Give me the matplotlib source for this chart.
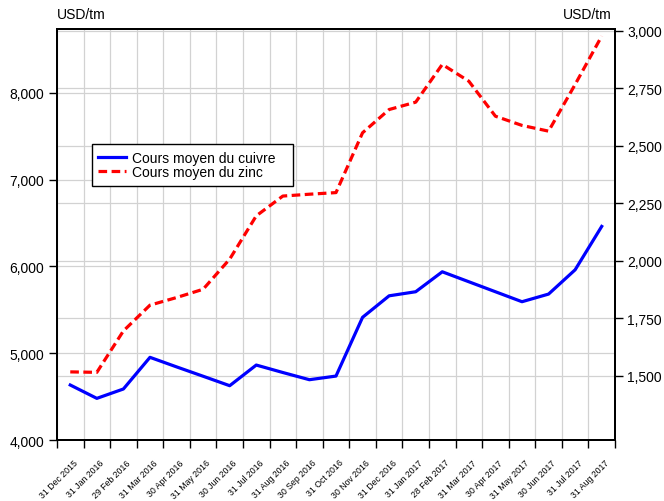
import matplotlib
matplotlib.use("Agg")
import matplotlib.pyplot as plt
import matplotlib.transforms as mtransforms
from matplotlib.ticker import FuncFormatter, FixedLocator
import numpy as np

plt.rcParams["font.family"] = ["Liberation Sans", "DejaVu Sans"]

# ---- data ----
months = ["31 Dec 2015", "31 Jan 2016", "29 Feb 2016", "31 Mar 2016", "30 Apr 2016",
          "31 May 2016", "30 Jun 2016", "31 Jul 2016", "31 Aug 2016", "30 Sep 2016",
          "31 Oct 2016", "30 Nov 2016", "31 Dec 2016", "31 Jan 2017", "28 Feb 2017",
          "31 Mar 2017", "30 Apr 2017", "31 May 2017", "30 Jun 2017", "31 Jul 2017",
          "31 Aug 2017"]
copper = [4634, 4480, 4588, 4953, 4843, 4735, 4626, 4864, 4778, 4695, 4737,
          5414, 5662, 5709, 5939, 5824, 5709, 5594, 5682, 5962, 6462]
zinc = [1517, 1515, 1695, 1807, 1840, 1876, 2007, 2195, 2281, 2289, 2296,
        2556, 2657, 2689, 2853, 2780, 2628, 2588, 2563, 2766, 2976]
label_copper = "Cours moyen du cuivre"
label_zinc = "Cours moyen du zinc"
unit = "USD/tm"
left_ticks = [4000, 5000, 6000, 7000, 8000]
right_ticks = [1500, 1750, 2000, 2250, 2500, 2750, 3000]

x = np.arange(len(months))

fig = plt.figure(figsize=(6.64, 5.02), dpi=100)
ax1 = fig.add_axes([0.0858, 0.1215, 0.8404, 0.8197])
ax2 = ax1.twinx()
ax3 = ax1.twinx()

grid_kw = dict(color="#d2d2d2", linewidth=0.9)
fmt = FuncFormatter(lambda v, p: f"{v:,.0f}")

# base axes: left scale, grids
ax1.set_xlim(-0.5, len(months) - 0.5)
ax1.set_ylim(4000, 8743)
ax1.yaxis.set_major_locator(FixedLocator(left_ticks))
ax1.yaxis.set_major_formatter(fmt)
ax1.set_xticks(x)
ax1.set_xticklabels(months, rotation=45, ha="right", va="center",
                    rotation_mode="anchor", fontsize=6.3)
ax1.xaxis.set_minor_locator(FixedLocator(np.arange(-0.5, len(months), 1.0)))
ax1.tick_params(axis="x", which="major", length=0, pad=15)
ax1.tick_params(axis="x", which="minor", length=6, width=1.0, direction="out", color="black")
ax1.tick_params(axis="y", which="major", length=6, width=1.0, direction="out",
                labelsize=10, pad=3)
ax1.grid(True, axis="x", which="minor", **grid_kw)
ax1.grid(True, axis="y", which="major", **grid_kw)
ax1.grid(False, axis="x", which="major")
ax1.set_axisbelow(True)
offset = mtransforms.ScaledTranslation(6 / 100, 0, fig.dpi_scale_trans)
for lab in ax1.get_xticklabels():
    lab.set_transform(lab.get_transform() + offset)

# right scale axes: zinc
ax2.set_ylim(1221, 3009)
ax2.yaxis.set_major_locator(FixedLocator(right_ticks))
ax2.yaxis.set_major_formatter(fmt)
ax2.tick_params(axis="y", which="major", length=6, width=1.0, direction="out",
                labelsize=10, pad=3)
ax2.grid(True, axis="y", **grid_kw)
ax2.set_axisbelow(True)
ax2.patch.set_visible(False)
l2, = ax2.plot(x, zinc, color="#ff0000", linewidth=2.3, linestyle=(0, (2.7, 1.4)),
               label=label_zinc)

# top axes: copper on left scale
ax3.set_ylim(ax1.get_ylim())
ax3.set_yticks([])
ax3.patch.set_visible(False)
l1, = ax3.plot(x, copper, color="#0000ff", linewidth=2.3, label=label_copper)

for ax in (ax1, ax2, ax3):
    for s in ax.spines.values():
        s.set_linewidth(1.4)
        s.set_color("black")

leg = ax3.legend(handles=[l1, l2], loc="upper left",
                 bbox_to_anchor=(0.0627, 0.619, 0.360, 0.10), mode="expand",
                 borderaxespad=0, frameon=True, fancybox=False, fontsize=10,
                 handlelength=2.0, handletextpad=0.45, labelspacing=0.05,
                 borderpad=0.46, framealpha=1)
leg.get_frame().set_edgecolor("black")
leg.get_frame().set_linewidth(1.0)

fig.text(57 / 664, 1 - 15 / 502, unit, ha="left", va="center", fontsize=10)
fig.text(612 / 664, 1 - 15 / 502, unit, ha="right", va="center", fontsize=10)

fig.savefig("out.png", dpi=100)
